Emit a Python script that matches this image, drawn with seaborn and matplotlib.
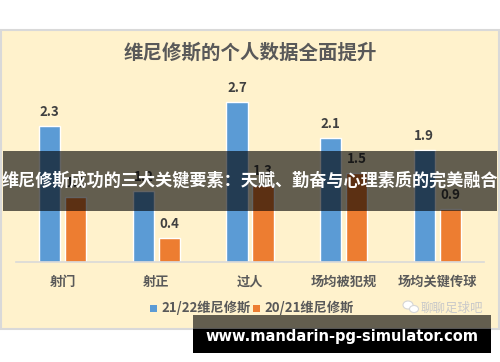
import matplotlib
matplotlib.use("Agg")
import matplotlib.pyplot as plt
from matplotlib.patches import Rectangle, Ellipse
import seaborn as sns
import pandas as pd

categories = ["射门", "射正", "过人", "场均被犯规", "场均关键传球"]
series_names = ["21/22维尼修斯", "20/21维尼修斯"]
values_2122 = [2.3, 1.2, 2.7, 2.1, 1.9]
values_2021 = [1.1, 0.4, 1.3, 1.5, 0.9]
title = "维尼修斯的个人数据全面提升"
banner = "维尼修斯成功的三大关键要素：天赋、勤奋与心理素质的完美融合"
website = "www.mandarin-pg-simulator.com"
source = "聊聊足球吧"

colors = ["#5B9BD5", "#ED7D31"]

df = pd.DataFrame({
    "category": categories * 2,
    "series": [series_names[0]] * len(categories) + [series_names[1]] * len(categories),
    "value": values_2122 + values_2021,
})

sns.set_theme(style="white")
plt.rcParams["font.family"] = ["Noto Sans CJK SC", "DejaVu Sans"]

W, H = 500, 362
fig = plt.figure(figsize=(W / 100, H / 100), dpi=100)
fig.patch.set_facecolor("white")

def fx(px):
    return px / W

def fy(py):
    return 1 - py / H

# panel background
fig.add_artist(Rectangle((fx(1), fy(329)), fx(498), (329 - 30) / H,
                         transform=fig.transFigure, facecolor="#FFF2CC",
                         edgecolor="#D9D9D9", linewidth=1.5, zorder=-5))

ax = fig.add_axes([fx(16), fy(262), fx(468), (262 - 80) / H])
ax.patch.set_alpha(0)
sns.barplot(data=df, x="category", y="value", hue="series", palette=colors,
            width=0.555, gap=0.19, ax=ax, legend=False, saturation=1)
ax.set_xlim(-0.5, 4.5)
ax.set_ylim(0, 182 / 59.1)
ax.set_xlabel("")
ax.set_ylabel("")
ax.set_yticks([])
for s in ["top", "right", "left"]:
    ax.spines[s].set_visible(False)
ax.spines["bottom"].set_color("#D9D9D9")
ax.spines["bottom"].set_linewidth(1.2)
ax.tick_params(axis="x", length=0, pad=9)
for lbl in ax.get_xticklabels():
    lbl.set_fontsize(9.5)
    lbl.set_fontweight("bold")
    lbl.set_color("#595959")

for cont in ax.containers:
    ax.bar_label(cont, fmt="%.1f", padding=5, fontsize=9.5, fontweight="bold",
                 color="#404040")

# title
fig.text(0.5, fy(53), title, ha="center", va="center", fontsize=14,
         fontweight="bold", color="#595959")

# legend
for i, (name, c) in enumerate(zip(series_names, colors)):
    x0 = [150, 253][i]
    fig.add_artist(Rectangle((fx(x0), fy(312)), fx(7), 7 / H,
                             transform=fig.transFigure, facecolor=c,
                             edgecolor="none"))
    fig.text(fx(x0 + 11), fy(308), name, ha="left", va="center", fontsize=9.5,
             fontweight="bold", color="#595959")

# source watermark with icon
fig.add_artist(Ellipse((fx(408), fy(305)), fx(10), 8 / H,
                       transform=fig.transFigure, facecolor="white",
                       edgecolor="#D6D6D6", linewidth=0.8, zorder=5))
fig.add_artist(Ellipse((fx(414), fy(309)), fx(9), 7 / H,
                       transform=fig.transFigure, facecolor="white",
                       edgecolor="#D6D6D6", linewidth=0.8, zorder=6))
fig.text(fx(483), fy(308), source, ha="right", va="center", fontsize=9,
         color="#C9C9C9")

# banner overlay
fig.add_artist(Rectangle((fx(3), fy(211)), fx(494), 60 / H,
                         transform=fig.transFigure, facecolor="black",
                         alpha=0.61, edgecolor="none", zorder=10))
fig.text(0.5, fy(181), banner, ha="center", va="center", fontsize=12.3,
         fontweight="bold", color="white", zorder=11)

# website box
fig.add_artist(Rectangle((fx(193), fy(329)), fx(298), 14 / H,
                         transform=fig.transFigure, facecolor="black",
                         alpha=0.61, edgecolor="none", zorder=10))
fig.add_artist(Rectangle((fx(193), fy(353)), fx(298), 24 / H,
                         transform=fig.transFigure, facecolor="black",
                         edgecolor="none", zorder=10))
fig.text(fx(342), fy(337), website, ha="center", va="center", fontsize=10.5,
         fontweight="bold", color="white", family="DejaVu Sans", zorder=11)

fig.savefig("out.png", dpi=100)
